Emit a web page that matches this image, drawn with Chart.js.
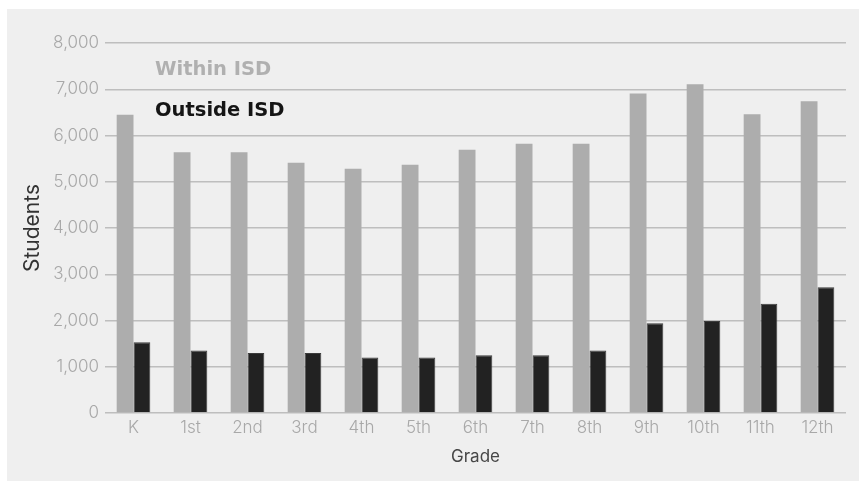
<!DOCTYPE html>
<html>
<head>
<meta charset="utf-8">
<title>Students by Grade</title>
<script src="https://cdn.jsdelivr.net/npm/chart.js@4/dist/chart.umd.min.js"></script>
<style>
  html, body { margin: 0; padding: 0; background: #ffffff; }
  #wrap { width: 859px; height: 481px; }
</style>
</head>
<body>
<div id="wrap"><canvas id="chart" width="859" height="481"></canvas></div>
<script>
// Enrollment by grade level
const grades = ['K', '1st', '2nd', '3rd', '4th', '5th', '6th', '7th', '8th', '9th', '10th', '11th', '12th'];
const withinISD = [6450, 5640, 5640, 5410, 5280, 5370, 5690, 5820, 5820, 6910, 7110, 6460, 6740];
const outsideISD = [1530, 1350, 1300, 1300, 1200, 1200, 1250, 1250, 1350, 1940, 1990, 2360, 2720];
const yTicks = [0, 1000, 2000, 3000, 4000, 5000, 6000, 7000, 8000];

const tickFont = { family: 'Inter, "Liberation Sans", sans-serif', size: 17, weight: '300' };

// Light gray panel behind the whole chart
const panelBackground = {
  id: 'panelBackground',
  beforeDraw(chart) {
    const { ctx, width, height } = chart;
    ctx.save();
    ctx.fillStyle = '#ffffff';
    ctx.fillRect(0, 0, width, height);
    ctx.fillStyle = '#efefef';
    ctx.fillRect(7, 9, width - 7, height - 9);
    ctx.restore();
  }
};

// Series names written as coloured text inside the plot
const textLegend = {
  id: 'textLegend',
  afterDraw(chart, args, opts) {
    const { ctx } = chart;
    ctx.save();
    ctx.font = 'bold 19.5px "DejaVu Sans", sans-serif';
    ctx.textAlign = 'left';
    ctx.textBaseline = 'middle';
    chart.data.datasets.forEach((ds, i) => {
      ctx.fillStyle = ds.legendColor || ds.backgroundColor;
      ctx.fillText(ds.label, opts.x, opts.y + i * opts.gap);
    });
    ctx.restore();
  }
};

new Chart(document.getElementById('chart'), {
  type: 'bar',
  data: {
    labels: grades,
    datasets: [
      {
        label: 'Within ISD',
        data: withinISD,
        backgroundColor: '#adadad',
        legendColor: '#b0b0b0',
        borderWidth: 0
      },
      {
        label: 'Outside ISD',
        data: outsideISD,
        backgroundColor: '#222222',
        legendColor: '#151515',
        borderColor: '#3c3c3c',
        borderWidth: 1
      }
    ]
  },
  options: {
    responsive: false,
    animation: false,
    layout: { padding: { left: 0, right: 13, top: 43, bottom: 0 } },
    datasets: {
      bar: { categoryPercentage: 0.59, barPercentage: 1.0 }
    },
    plugins: {
      legend: { display: false },
      tooltip: { enabled: false },
      textLegend: { x: 155, y: 70, gap: 41 }
    },
    scales: {
      x: {
        grid: { display: false, drawTicks: false },
        border: { display: false },
        ticks: { color: '#a8a8a8', font: tickFont, padding: 5 },
        title: {
          display: true,
          text: 'Grade',
          color: '#474747',
          font: { family: 'Inter, "Liberation Sans", sans-serif', size: 17, weight: '400' },
          padding: { top: 0, bottom: 14 }
        },
        afterFit(scale) { scale.height = 68; }
      },
      y: {
        min: 0,
        max: 8000,
        afterBuildTicks(scale) { scale.ticks = yTicks.map(v => ({ value: v })); },
        grid: { color: '#bebebe', lineWidth: 1.5, drawTicks: false },
        border: { display: false },
        ticks: {
          color: '#a8a8a8',
          font: tickFont,
          padding: 6,
          callback: v => v.toLocaleString('en-US')
        },
        title: {
          display: true,
          text: 'Students',
          color: '#333333',
          font: { family: 'Inter, "Liberation Sans", sans-serif', size: 21, weight: '400' },
          padding: { top: 20, bottom: 0 }
        },
        afterFit(scale) { scale.width = 105; }
      }
    }
  },
  plugins: [panelBackground, textLegend]
});
</script>
</body>
</html>
